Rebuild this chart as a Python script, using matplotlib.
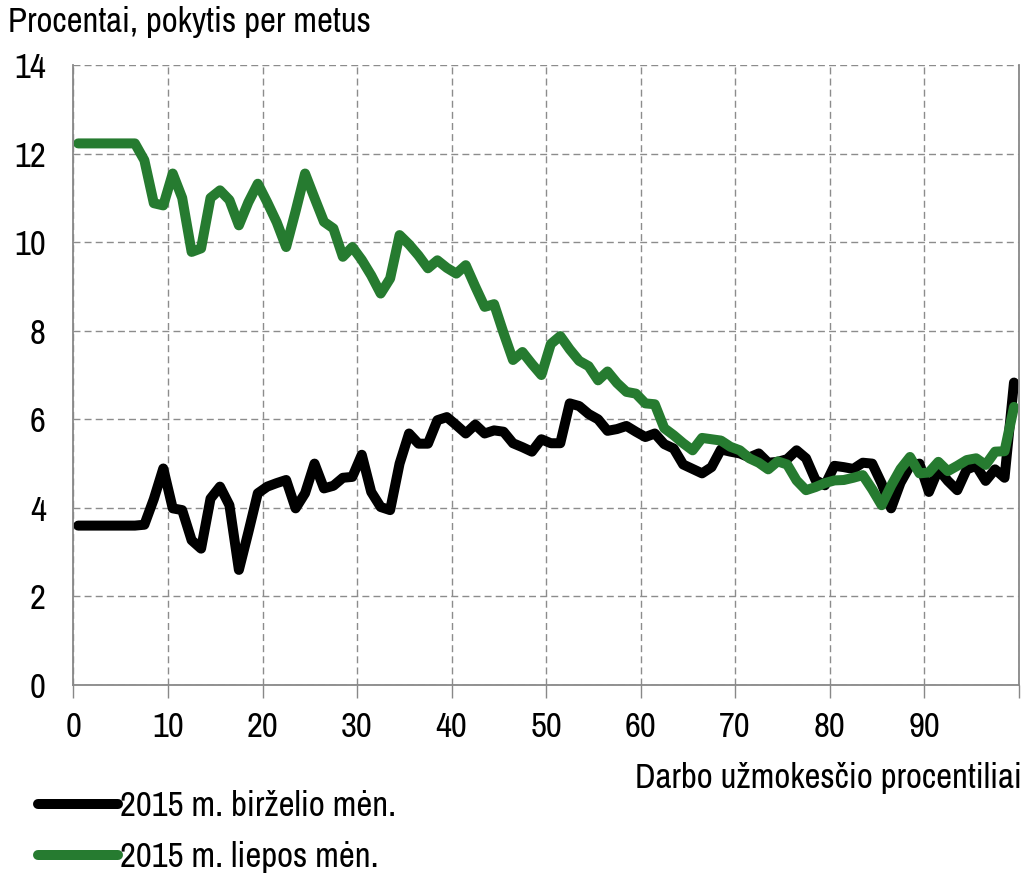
import numpy as np
import matplotlib
matplotlib.use("Agg")
import matplotlib.pyplot as plt
from matplotlib import font_manager as fm

# percentiles 1..100, drawn in the middle of each bin
percentiles = list(range(1, 101))

june = [3.60, 3.60, 3.60, 3.60, 3.60, 3.60, 3.60, 3.62, 4.20, 4.89,
        3.99, 3.95, 3.27, 3.08, 4.21, 4.48, 4.06, 2.60, 3.45, 4.33,
        4.48, 4.56, 4.63, 3.99, 4.33, 5.00, 4.44, 4.50, 4.68, 4.70,
        5.20, 4.36, 4.02, 3.95, 5.00, 5.68, 5.45, 5.45, 5.98, 6.05,
        5.87, 5.68, 5.88, 5.68, 5.75, 5.72, 5.46, 5.37, 5.27, 5.55,
        5.46, 5.46, 6.36, 6.30, 6.12, 6.00, 5.74, 5.78, 5.85, 5.72,
        5.60, 5.68, 5.44, 5.34, 4.98, 4.88, 4.78, 4.92, 5.32, 5.27,
        5.23, 5.14, 5.23, 5.02, 5.04, 5.10, 5.30, 5.12, 4.63, 4.51,
        4.95, 4.92, 4.88, 5.02, 5.00, 4.55, 3.99, 4.57, 4.95, 5.00,
        4.36, 4.87, 4.61, 4.40, 4.87, 4.95, 4.61, 4.87, 4.68, 6.83]

july = [12.23, 12.23, 12.23, 12.23, 12.23, 12.23, 12.23, 11.85, 10.88, 10.83,
        11.55, 11.00, 9.78, 9.86, 11.00, 11.17, 10.95, 10.38, 10.90, 11.32,
        10.90, 10.45, 9.89, 10.70, 11.55, 11.00, 10.46, 10.31, 9.67, 9.89,
        9.60, 9.25, 8.84, 9.18, 10.16, 9.95, 9.70, 9.41, 9.59, 9.42,
        9.29, 9.48, 9.00, 8.54, 8.60, 7.95, 7.34, 7.52, 7.25, 7.00,
        7.70, 7.88, 7.58, 7.32, 7.20, 6.88, 7.08, 6.82, 6.62, 6.58,
        6.36, 6.34, 5.80, 5.64, 5.46, 5.30, 5.58, 5.55, 5.52, 5.38,
        5.30, 5.12, 5.02, 4.87, 5.05, 4.98, 4.62, 4.40, 4.47, 4.56,
        4.62, 4.63, 4.68, 4.74, 4.42, 4.06, 4.50, 4.88, 5.15, 4.78,
        4.80, 5.04, 4.83, 4.95, 5.08, 5.12, 4.97, 5.27, 5.28, 6.28]

labels = ["2015 m. birželio mėn.", "2015 m. liepos mėn."]
colors = ["#000000", "#267B30"]

x_ticks = [0, 10, 20, 30, 40, 50, 60, 70, 80, 90]
y_ticks = [0, 2, 4, 6, 8, 10, 12, 14]


def pick_narrow_font():
    # look for a condensed / narrow face, the original uses Arial Narrow
    for f in fm.fontManager.ttflist:
        if "Narrow" in f.name:
            return f.name, f.stretch
    for f in fm.fontManager.ttflist:
        st = f.stretch
        if isinstance(st, str):
            cond = "condensed" in st
        else:
            cond = st < 500
        if cond and f.style == "normal" and f.weight in (400, "normal", "regular"):
            return f.name, st
    return "DejaVu Sans", "normal"


fam, stretch = pick_narrow_font()
plt.rcParams["font.family"] = [fam, "DejaVu Sans"]
plt.rcParams["font.stretch"] = stretch
FS = 25

fig = plt.figure(figsize=(10.29, 8.74), dpi=100)
ax = fig.add_axes([0.0714, 0.2162, 0.9186, 0.7094])

xs = np.array(percentiles) - 0.5
for ys, lab, col in zip([june, july], labels, colors):
    ax.plot(xs, ys, color=col, linewidth=7.2, solid_capstyle="round",
            solid_joinstyle="round", label=lab)

ax.set_xlim(0, 100)
ax.set_ylim(0, 14)
ax.set_xticks(x_ticks + [100])
ax.set_xticklabels([str(t) for t in x_ticks] + [""])
ax.set_yticks(y_ticks)
ax.tick_params(axis="x", direction="out", length=9, width=1, color="#888888",
               labelsize=FS, pad=10)
ax.tick_params(axis="y", length=0, labelsize=FS, pad=20)

ax.grid(True, color="#8c8c8c", linestyle=(0, (5, 3)), linewidth=1.0)
ax.set_axisbelow(True)
for side in ["left", "bottom", "right"]:
    ax.spines[side].set_color("#888888")
    ax.spines[side].set_linewidth(1.3)
ax.spines["top"].set_visible(False)

fig.text(0.008, 0.975, "Procentai, pokytis per metus", fontsize=FS,
         ha="left", va="center")
fig.text(0.993, 0.110, "Darbo užmokesčio procentiliai", fontsize=FS,
         ha="right", va="center")

fig.legend(loc="upper left", bbox_to_anchor=(0.037, 0.096), frameon=False,
           fontsize=FS, handlelength=2.3, handletextpad=0.05, labelspacing=0.55,
           borderpad=0, borderaxespad=0)

fig.savefig("out.png", dpi=100)
